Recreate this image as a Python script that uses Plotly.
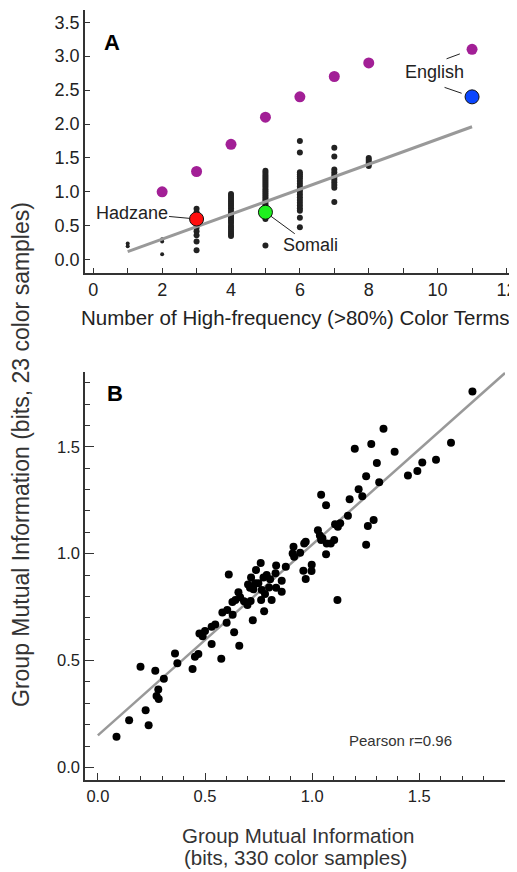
import plotly.graph_objects as go

# ---- Panel A data ----
top_terms = [2, 3, 4, 5, 6, 7, 8, 11]
top_mi = [1.0, 1.3, 1.7, 2.1, 2.4, 2.7, 2.9, 3.1]

few_terms_x = [1, 1, 2, 2, 2]
few_terms_y = [0.24, 0.20, 0.30, 0.27, 0.08]

col_3 = [0.75, 0.70, 0.65, 0.61, 0.55, 0.53, 0.47, 0.42, 0.36, 0.27, 0.14]
col_4 = [0.97, 0.94, 0.91, 0.88, 0.85, 0.82, 0.79, 0.76, 0.72, 0.69, 0.66,
         0.63, 0.60, 0.57, 0.54, 0.50, 0.47, 0.44, 0.41, 0.38, 0.35]
col_5 = [1.31, 1.28, 1.25, 1.22, 1.19, 1.16, 1.13, 1.10, 1.07, 1.04, 1.01, 0.98,
         0.95, 0.92, 0.89, 0.86, 0.83, 0.80, 0.77, 0.74, 0.68, 0.64, 0.60, 0.21]
col_6 = [1.75, 1.58, 1.29, 1.26, 1.23, 1.20, 1.16, 1.12, 1.08, 1.04, 1.00,
         0.96, 0.92, 0.88, 0.84, 0.80, 0.76, 0.72, 0.62, 0.48]
col_7 = [1.65, 1.52, 1.33, 1.29, 1.25, 1.21, 1.18, 1.14, 1.10, 1.06, 0.85]
col_8 = [1.50, 1.47, 1.44, 1.41, 1.38]
columns = {3: col_3, 4: col_4, 5: col_5, 6: col_6, 7: col_7, 8: col_8}

hl_names = ["Hadzane", "Somali", "English"]
hl_x = [3, 5, 11]
hl_y = [0.60, 0.70, 2.40]
hl_colors = ["#ff0d0d", "#1ef01e", "#0a46ff"]

fit_a_x = [1, 11]
fit_a_y = [0.12, 1.96]

# ---- Panel B data ----
b_x = [0.087, 0.146, 0.199, 0.223, 0.237, 0.268, 0.308, 0.282, 0.274, 0.284,
       0.360, 0.371, 0.442, 0.453, 0.469, 0.531, 0.576, 0.474, 0.489, 0.500,
       0.531, 0.548, 0.601, 0.581, 0.604, 0.629, 0.636, 0.660, 0.628, 0.642,
       0.656, 0.664, 0.682, 0.698, 0.713, 0.701, 0.710, 0.726, 0.723, 0.776,
       0.762, 0.780, 0.765, 0.811, 0.799, 0.832, 0.858, 0.715, 0.738, 0.760,
       0.611, 0.734, 0.749, 0.773, 0.788, 0.804, 0.829, 0.832, 0.858, 0.877,
       0.913, 0.916, 0.944, 0.909, 0.963, 0.970, 0.998, 0.959, 0.997, 0.970,
       1.027, 1.042, 1.068, 1.065, 1.042, 1.065, 1.748, 1.333, 1.199, 1.276,
       1.385, 1.302, 1.252, 1.313, 1.648, 1.578, 1.514, 1.491, 1.447, 1.217,
       1.234, 1.175, 1.167, 1.131, 1.107, 1.120, 1.287, 1.260, 1.087, 1.103,
       1.252, 1.118, 1.036, 1.048]
b_y = [0.143, 0.221, 0.471, 0.267, 0.197, 0.452, 0.415, 0.365, 0.334, 0.320,
       0.533, 0.487, 0.460, 0.518, 0.530, 0.577, 0.508, 0.627, 0.614, 0.638,
       0.658, 0.669, 0.677, 0.725, 0.736, 0.714, 0.632, 0.569, 0.774, 0.783,
       0.819, 0.796, 0.777, 0.760, 0.778, 0.856, 0.840, 0.833, 0.689, 0.731,
       0.783, 0.811, 0.830, 0.783, 0.842, 0.840, 0.822, 0.889, 0.923, 0.956,
       0.903, 0.861, 0.861, 0.889, 0.900, 0.880, 0.908, 0.945, 0.873, 0.939,
       1.032, 0.985, 1.004, 1.001, 1.048, 1.056, 0.948, 0.920, 0.919, 0.881,
       1.110, 1.064, 1.048, 0.997, 1.276, 1.227, 1.759, 1.584, 1.491, 1.513,
       1.477, 1.424, 1.362, 1.334, 1.519, 1.439, 1.427, 1.387, 1.366, 1.301,
       1.268, 1.255, 1.177, 1.142, 1.138, 1.126, 1.157, 1.129, 1.048, 1.064,
       1.042, 0.783, 1.085, 1.072]

fit_b_x = [0.0, 1.9]
fit_b_y = [0.15, 1.845]

FONT = "Liberation Sans, Arial, sans-serif"
INK = "#222222"

dots_x, dots_y = [], []
for k, vals in columns.items():
    dots_x += [k] * len(vals)
    dots_y += vals

fig = go.Figure()

# Panel A
fig.add_trace(go.Scatter(x=few_terms_x, y=few_terms_y, mode="markers",
                         marker=dict(size=4, color=INK), xaxis="x", yaxis="y"))
fig.add_trace(go.Scatter(x=dots_x, y=dots_y, mode="markers",
                         marker=dict(size=6, color=INK), xaxis="x", yaxis="y"))
fig.add_trace(go.Scatter(x=fit_a_x, y=fit_a_y, mode="lines",
                         line=dict(color="#999999", width=3), xaxis="x", yaxis="y"))
fig.add_trace(go.Scatter(x=top_terms, y=top_mi, mode="markers",
                         marker=dict(size=11, color="#a21f96"), xaxis="x", yaxis="y"))
fig.add_trace(go.Scatter(x=hl_x, y=hl_y, mode="markers",
                         marker=dict(size=14, color=hl_colors, line=dict(color="#111", width=1)),
                         xaxis="x", yaxis="y"))

# Panel B
fig.add_trace(go.Scatter(x=fit_b_x, y=fit_b_y, mode="lines",
                         line=dict(color="#999999", width=2.5), xaxis="x2", yaxis="y2"))
fig.add_trace(go.Scatter(x=b_x, y=b_y, mode="markers",
                         marker=dict(size=8, color="#000000"), xaxis="x2", yaxis="y2"))

axis_common = dict(showline=True, linecolor="#333333", linewidth=1.5, showgrid=False,
                   zeroline=False, ticks="inside", tickcolor="#333333", automargin=False,
                   tickfont=dict(family=FONT, color=INK))

# page body adds an 8px offset, so the figure is 8px smaller and margins shifted
fig.update_layout(
    width=509, height=864,
    margin=dict(l=77, r=5, t=2, b=92),
    paper_bgcolor="white", plot_bgcolor="white",
    showlegend=False,
    xaxis=dict(axis_common, domain=[0, 1], anchor="y", range=[-0.24, 12.16],
               tickvals=[0, 2, 4, 6, 8, 10, 12], ticklen=5, tickfont_size=18,
               minor=dict(dtick=1, ticks="inside", ticklen=5, tickcolor="#333333")),
    yaxis=dict(axis_common, domain=[0.6584, 1], anchor="x", range=[-0.196, 3.68],
               tickvals=[0, 0.5, 1, 1.5, 2, 2.5, 3, 3.5], tickformat=".1f",
               ticklen=5, tickfont_size=18),
    xaxis2=dict(axis_common, domain=[0, 0.9836], anchor="y2", range=[-0.06, 1.90],
                tickvals=[0, 0.5, 1, 1.5], tickformat=".1f", ticklen=7, tickfont_size=16.5,
                minor=dict(dtick=0.1, ticks="inside", ticklen=4, tickcolor="#333333")),
    yaxis2=dict(axis_common, domain=[0, 0.5299], anchor="x2", range=[-0.059, 1.85],
                tickvals=[0, 0.5, 1, 1.5], tickformat=".1f", ticklen=9, tickfont_size=16.5,
                minor=dict(dtick=0.1, ticks="inside", ticklen=5, tickcolor="#333333")),
)

ann_font = dict(family=FONT, size=18, color=INK)
fig.add_annotation(x=3, y=0.60, xref="x", yref="y", text="Hadzane", font=ann_font,
                   showarrow=True, arrowhead=0, arrowwidth=1, arrowcolor=INK,
                   ax=-65, ay=-6, standoff=7)
fig.add_annotation(x=5, y=0.70, xref="x", yref="y", text="Somali", font=ann_font,
                   showarrow=True, arrowhead=0, arrowwidth=1, arrowcolor=INK,
                   ax=45, ay=33, standoff=7)
fig.add_annotation(x=11, y=2.40, xref="x", yref="y", text="English", font=ann_font,
                   showarrow=False, xshift=-38, yshift=25)
fig.add_annotation(x=11, y=3.1, xref="x", yref="y", text=" ", font=dict(size=1),
                   showarrow=True, arrowhead=0, arrowwidth=1, arrowcolor=INK,
                   ax=-27, ay=10, standoff=13)
fig.add_annotation(x=11, y=2.40, xref="x", yref="y", text=" ", font=dict(size=1),
                   showarrow=True, arrowhead=0, arrowwidth=1, arrowcolor=INK,
                   ax=-29, ay=-10, standoff=11)


def paper_text(px, py, text, size, color=INK, angle=0):
    # place text by page pixel centre; plot area spans x 85..512, y 10..780 on the page
    fig.add_annotation(x=(px - 85) / 427, y=(780 - py) / 770, xref="paper", yref="paper",
                       xanchor="center", yanchor="middle", text=text, textangle=angle,
                       showarrow=False, font=dict(family=FONT, size=size, color=color))


paper_text(112, 43, "<b>A</b>", 22, "#000")
paper_text(115, 393, "<b>B</b>", 22, "#000")
paper_text(400, 740, "Pearson r=0.96", 15, "#333333")
paper_text(295, 317, "Number of High-frequency (>80%) Color Terms", 20.5, INK)
paper_text(298, 835, "Group Mutual Information", 20.5, "#333333")
paper_text(295, 857, "(bits, 330 color samples)", 20.5, "#333333")
paper_text(21, 455, "Group Mutual Information (bits, 23 color samples)", 23, "#333333", -90)

fig.write_html("out.html")
